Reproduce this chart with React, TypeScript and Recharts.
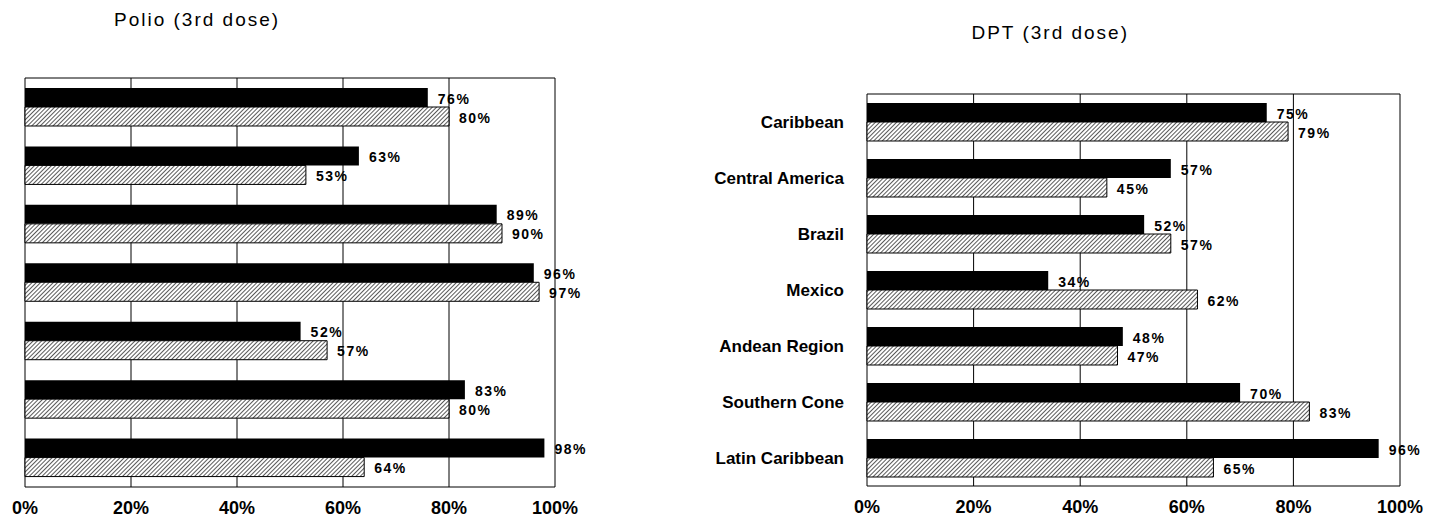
import React from "react";
import {
  Bar,
  BarChart,
  CartesianGrid,
  LabelList,
  XAxis,
  YAxis,
} from "recharts";

const regions = [
  "Caribbean",
  "Central America",
  "Brazil",
  "Mexico",
  "Andean Region",
  "Southern Cone",
  "Latin Caribbean",
];

// black bars / hatched bars, percent coverage
const polioSolid = [76, 63, 89, 96, 52, 83, 98];
const polioHatched = [80, 53, 90, 97, 57, 80, 64];
const dptSolid = [75, 57, 52, 34, 48, 70, 96];
const dptHatched = [79, 45, 57, 62, 47, 83, 65];

const pctTicks = [0, 20, 40, 60, 80, 100];

const FONT = '"Liberation Sans", Arial, sans-serif';

const toRows = (solid: number[], hatched: number[]) =>
  regions.map((name, i) => ({ name, solid: solid[i], hatched: hatched[i] }));

const polioData = toRows(polioSolid, polioHatched);
const dptData = toRows(dptSolid, dptHatched);

const renderValue = (props: any) => {
  const { x, y, width, height, value } = props;
  return (
    <text
      x={Number(x) + Number(width) + 10}
      y={Number(y) + Number(height) / 2 + 1}
      dominantBaseline="central"
      fontSize={14}
      fontWeight="bold"
      letterSpacing={1.5}
      fill="#000"
      fontFamily={FONT}
    >
      {value}%
    </text>
  );
};

// top + bottom frame lines of the plot area
const frameRows = ({ offset }: any) => [offset.top, offset.top + offset.height];

interface PanelProps {
  data: { name: string; solid: number; hatched: number }[];
  width: number;
  margin: { top: number; right: number; left: number; bottom: number };
  yWidth: number;
  showNames: boolean;
  xHeight: number;
}

const Panel: React.FC<PanelProps> = ({
  data,
  width,
  margin,
  yWidth,
  showNames,
  xHeight,
}) => {
  return (
    <BarChart
      width={width}
      height={519}
      data={data}
      layout="vertical"
      margin={margin}
      barSize={19}
      barGap={0}
    >
      <CartesianGrid
        stroke="#000"
        strokeWidth={1}
        horizontalCoordinatesGenerator={frameRows}
      />
      <XAxis
        type="number"
        domain={[0, 100]}
        ticks={pctTicks}
        interval={0}
        height={xHeight}
        axisLine={false}
        tickLine={false}
        tickSize={0}
        tickMargin={14}
        tickFormatter={(v: number) => `${v}%`}
        tick={{ fontSize: 18, fontWeight: "bold", fill: "#000", fontFamily: FONT }}
      />
      <YAxis
        type="category"
        dataKey="name"
        hide={!showNames}
        width={yWidth}
        axisLine={false}
        tickLine={false}
        tickSize={0}
        tickMargin={23}
        interval={0}
        tick={{ fontSize: 17, fontWeight: "bold", fill: "#000", fontFamily: FONT }}
      />
      <Bar dataKey="solid" fill="#000" isAnimationActive={false}>
        <LabelList dataKey="solid" content={renderValue} />
      </Bar>
      <Bar
        dataKey="hatched"
        fill="url(#hatch)"
        stroke="#000"
        strokeWidth={1}
        isAnimationActive={false}
      >
        <LabelList dataKey="hatched" content={renderValue} />
      </Bar>
    </BarChart>
  );
};

export default function App() {
  return (
    <div
      style={{
        position: "absolute",
        left: 0,
        top: 0,
        width: 1433,
        height: 519,
        background: "#fff",
        fontFamily: FONT,
      }}
    >
      <svg width={0} height={0} style={{ position: "absolute" }}>
        <defs>
          <pattern
            id="hatch"
            width={3}
            height={3}
            patternUnits="userSpaceOnUse"
            patternTransform="rotate(45)"
          >
            <rect width={3} height={3} fill="#fff" />
            <line x1={0} y1={0} x2={0} y2={3} stroke="#000" strokeWidth={1.3} />
          </pattern>
        </defs>
      </svg>

      <div
        style={{
          position: "absolute",
          left: 114,
          top: 9,
          fontSize: 19,
          lineHeight: "22px",
          letterSpacing: 2,
          whiteSpace: "nowrap",
        }}
      >
        Polio (3rd dose)
      </div>
      <div
        style={{
          position: "absolute",
          left: 0,
          width: 1129,
          top: 22,
          fontSize: 19,
          lineHeight: "22px",
          letterSpacing: 2,
          textAlign: "right",
          whiteSpace: "nowrap",
        }}
      >
        DPT (3rd dose)
      </div>

      <div style={{ position: "absolute", left: 0, top: 0 }}>
        <Panel
          data={polioData}
          width={600}
          margin={{ top: 78, right: 45, left: 25, bottom: 0 }}
          yWidth={0}
          showNames={false}
          xHeight={32}
        />
      </div>
      <div style={{ position: "absolute", left: 700, top: 0 }}>
        <Panel
          data={dptData}
          width={733}
          margin={{ top: 94, right: 33, left: 0, bottom: 0 }}
          yWidth={167}
          showNames={true}
          xHeight={33}
        />
      </div>
    </div>
  );
}
